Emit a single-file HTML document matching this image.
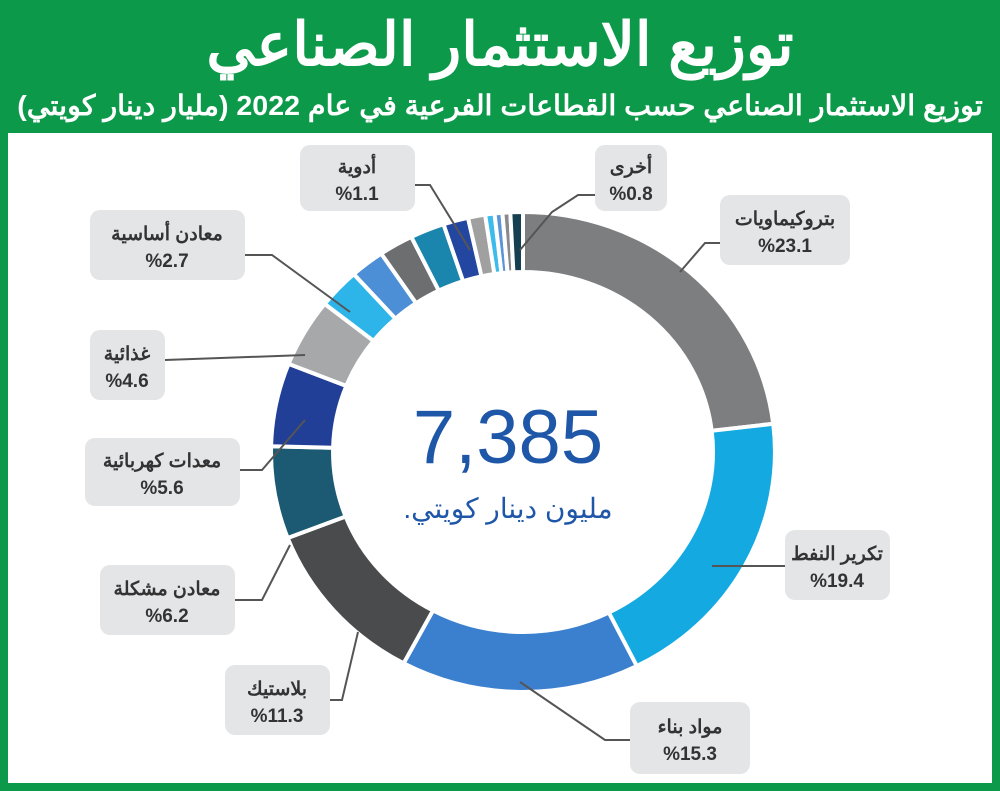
<!DOCTYPE html>
<html><head><meta charset="utf-8"><style>
html,body{margin:0;padding:0;background:#fff}
body{width:1000px;height:791px;position:relative;overflow:hidden;font-family:"Liberation Sans","Noto Sans CJK SC",sans-serif}
.frame{position:absolute;left:0;top:0;width:1000px;height:791px;background:#0c9a4a}
.inner{position:absolute;left:8px;top:133px;width:984px;height:650px;background:#fff}
.t1{position:absolute;left:0;width:1000px;top:10px;text-align:center;color:#fff;font-weight:bold;font-size:60px;line-height:70px;white-space:nowrap}
.t2{position:absolute;left:0;width:1000px;top:86px;text-align:center;color:#fff;font-weight:bold;font-size:28px;line-height:40px;white-space:nowrap;transform:scaleX(1.02)}
svg{position:absolute;left:0;top:0}
</style></head><body>
<div class="frame"></div>
<div class="inner"></div>
<div class="t1" dir="rtl">توزيع الاستثمار الصناعي</div>
<div class="t2" dir="rtl">توزيع الاستثمار الصناعي حسب القطاعات الفرعية في عام 2022 (مليار دينار كويتي)</div>
<svg id="s" width="1000" height="791" viewBox="0 0 1000 791" font-family="Liberation Sans, Noto Sans CJK SC, sans-serif">
<g id="ring"></g>
<g fill="none" stroke="#555" stroke-width="2">
<polyline points="720,243 705,243 680,272"/>
<polyline points="785,566 712,566"/>
<polyline points="630,740 605,740 520,682"/>
<polyline points="330,700 342,700 358,632"/>
<polyline points="235,600 262,600 290,545"/>
<polyline points="240,470 262,470 305,420"/>
<polyline points="165,360 305,355"/>
<polyline points="245,255 272,255 350,312"/>
<polyline points="415,185 430,185 470,250"/>
<polyline points="595,195 578,195 552,212 520,250"/>
</g>
<g fill="#e4e5e7">
<rect x="595" y="145" width="72" height="66" rx="10"/>
<rect x="720" y="195" width="130" height="70" rx="10"/>
<rect x="785" y="530" width="105" height="70" rx="10"/>
<rect x="630" y="702" width="120" height="72" rx="10"/>
<rect x="225" y="665" width="105" height="70" rx="10"/>
<rect x="100" y="565" width="135" height="70" rx="10"/>
<rect x="85" y="438" width="155" height="68" rx="10"/>
<rect x="90" y="330" width="75" height="70" rx="10"/>
<rect x="90" y="210" width="155" height="70" rx="10"/>
<rect x="300" y="145" width="115" height="66" rx="10"/>
</g>
<g fill="#333" font-size="19" text-anchor="middle" font-weight="bold">
<text x="631" y="173" direction="rtl">أخرى</text><text x="631" y="200">%0.8</text>
<text x="785" y="225" direction="rtl">بتروكيماويات</text><text x="785" y="252">%23.1</text>
<text x="837" y="560" direction="rtl">تكرير النفط</text><text x="837" y="587">%19.4</text>
<text x="690" y="733" direction="rtl">مواد بناء</text><text x="690" y="760">%15.3</text>
<text x="277" y="695" direction="rtl">بلاستيك</text><text x="277" y="722">%11.3</text>
<text x="167" y="595" direction="rtl">معادن مشكلة</text><text x="167" y="622">%6.2</text>
<text x="162" y="467" direction="rtl">معدات كهربائية</text><text x="162" y="494">%5.6</text>
<text x="127" y="360" direction="rtl">غذائية</text><text x="127" y="387">%4.6</text>
<text x="167" y="240" direction="rtl">معادن أساسية</text><text x="167" y="267">%2.7</text>
<text x="357" y="173" direction="rtl">أدوية</text><text x="357" y="200">%1.1</text>
</g>
<text x="508" y="463" text-anchor="middle" font-size="76" fill="#1f57a8">7,385</text>
<text x="508" y="518" text-anchor="middle" font-size="28" fill="#1f57a8" direction="rtl">مليون دينار كويتي.</text>
</svg>
<script>
var cx=523,cy=452,rx=252,ry=240,irx=190,iry=180;
var segs=[[23.1,"#7d7e80"],[19.4,"#14a9e1"],[15.3,"#3b7fcf"],[11.3,"#4a4b4d"],[6.2,"#1b5a72"],[5.6,"#213f96"],[4.6,"#a7a8aa"],[2.7,"#2db5ea"],[2.2,"#4d8fd6"],[2.2,"#6d6e70"],[2.2,"#1b86ad"],[1.6,"#2347a0"],[1.1,"#a0a0a0"],[0.6,"#3cbcec"],[0.5,"#5b95d8"],[0.5,"#8a8a8a"],[0.8,"#173f52"]];
var tot=0;segs.forEach(function(s){tot+=s[0]});
var g=document.getElementById("ring"),a=0,h="";
function p(ang,Rx,Ry){var t=ang*Math.PI/180;return (cx+Rx*Math.sin(t)).toFixed(1)+","+(cy-Ry*Math.cos(t)).toFixed(1);}
segs.forEach(function(s){var d=s[0]/tot*360,b=a+d,l=d>180?1:0;
h+='<path fill="'+s[1]+'" stroke="#fff" stroke-width="4" d="M'+p(a,rx,ry)+' A'+rx+','+ry+' 0 '+l+' 1 '+p(b,rx,ry)+' L'+p(b,irx,iry)+' A'+irx+','+iry+' 0 '+l+' 0 '+p(a,irx,iry)+' Z"/>';a=b;});
g.innerHTML=h;
</script>
</body></html>
